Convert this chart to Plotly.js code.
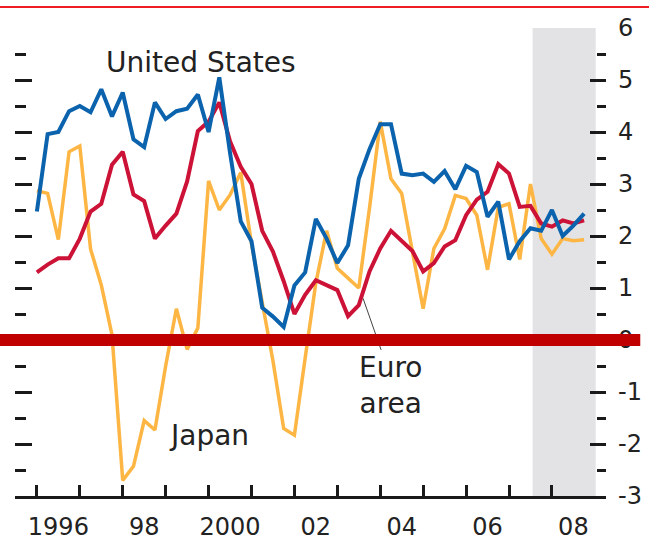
<!DOCTYPE html>
<html>
<head>
<meta charset="utf-8">
<script src="https://cdn.plot.ly/plotly-3.0.1.min.js"></script>
<style>html,body{margin:0;padding:0;background:#fff;}#chart{width:649px;height:542px;}</style>
</head>
<body>
<div id="chart"></div>
<script>
// Quarterly growth rates, 1996Q1 - 2008Q4
const quarters = [];
for (let y = 1996; y <= 2008; y++) { for (let q = 1; q <= 4; q++) quarters.push(y + 'Q' + q); }

const usValues = [2.47,3.96,4.0,4.4,4.5,4.38,4.82,4.3,4.76,3.86,3.71,4.57,4.25,4.4,4.45,4.72,4.0,5.05,3.6,2.28,1.9,0.62,0.45,0.25,1.05,1.3,2.33,1.95,1.48,1.82,3.1,3.67,4.15,4.15,3.2,3.17,3.2,3.04,3.25,2.9,3.35,3.23,2.37,2.66,1.55,1.9,2.15,2.1,2.5,2.0,2.2,2.43];
const euroValues = [1.3,1.45,1.57,1.57,1.95,2.47,2.62,3.37,3.62,2.8,2.67,1.95,2.2,2.43,3.05,4.02,4.2,4.57,3.82,3.33,3.0,2.1,1.7,1.13,0.5,0.87,1.15,1.06,0.96,0.46,0.67,1.32,1.76,2.1,1.9,1.71,1.32,1.48,1.8,1.92,2.4,2.7,2.85,3.38,3.2,2.56,2.58,2.24,2.18,2.3,2.24,2.3];
const japanValues = [2.87,2.82,1.93,3.62,3.73,1.75,1.06,0.1,-2.7,-2.43,-1.55,-1.73,-0.5,0.6,-0.18,0.23,3.06,2.5,2.79,3.22,1.85,0.72,-0.4,-1.7,-1.83,-0.35,1.1,2.1,1.38,1.19,1.0,2.54,4.2,3.1,2.82,1.7,0.6,1.76,2.14,2.78,2.72,2.4,1.35,2.55,2.62,1.55,3.0,1.95,1.65,1.95,1.91,1.93];

const yearTicks = [1996,1997,1998,1999,2000,2001,2002,2003,2004,2005,2006,2007,2008];
const yearLabelPos = [1996.5,1998.5,2000.5,2002.5,2004.5,2006.5,2008.5];
const yearLabels = ['1996','98','2000','02','04','06','08'];
const yTickVals = [-3,-2,-1,0,1,2,3,4,5,6];
const yTickText = ['-3','-2','-1','0','1','2','3','4','5','6'];
const forecastStart = 2007.55, forecastEnd = 2009.02;

const xs = quarters.map(s => parseInt(s.slice(0,4)) + (parseInt(s.slice(5)) - 1) / 4);

const FONT = 'DejaVu Sans, Verdana, sans-serif';
const TICKC = '#1a1a1a';
const XR = [1995.49, 2009.26];

const traces = [
  {x: xs, y: japanValues, mode: 'lines', line: {color: '#fdb643', width: 3.5}, hoverinfo: 'skip', name: 'Japan'},
  {x: xs, y: euroValues, mode: 'lines', line: {color: '#cc1236', width: 4}, hoverinfo: 'skip', name: 'Euro area'},
  {x: xs, y: usValues, mode: 'lines', line: {color: '#0b63ae', width: 4}, hoverinfo: 'skip', name: 'United States'},
  {x: [yearLabelPos[0]], y: [0], xaxis: 'x2', yaxis: 'y2', mode: 'markers', marker: {opacity: 0}, hoverinfo: 'skip', showlegend: false}
];

const layout = {
  width: 649, height: 542,
  margin: {l: 15, r: 43, t: 28, b: 46, pad: 0},
  paper_bgcolor: '#ffffff', plot_bgcolor: '#ffffff',
  showlegend: false,
  font: {family: FONT, color: '#222'},
  xaxis: {range: XR, tickmode: 'array', tickvals: yearTicks, ticks: 'inside', ticklen: 11, tickwidth: 3, tickcolor: TICKC,
          showticklabels: false, showline: true, linewidth: 3, linecolor: TICKC, showgrid: false, zeroline: false, fixedrange: true},
  xaxis2: {overlaying: 'x', anchor: 'y', side: 'bottom', range: XR, tickmode: 'array', tickvals: yearLabelPos, ticktext: yearLabels,
           ticks: '', showline: false, showgrid: false, zeroline: false, tickfont: {family: FONT, size: 24, color: '#222'}, ticklabelstandoff: 14, fixedrange: true},
  yaxis: {range: [-3, 6], tickmode: 'array', tickvals: yTickVals, ticks: 'inside', ticklen: 17, tickwidth: 3, tickcolor: TICKC,
          showticklabels: false, showline: false, showgrid: false, zeroline: false, fixedrange: true,
          minor: {tickmode: 'linear', tick0: -2.5, dtick: 1, ticks: 'inside', ticklen: 11, tickwidth: 3, tickcolor: TICKC, showgrid: false}},
  yaxis2: {overlaying: 'y', anchor: 'x', side: 'right', range: [-3, 6], tickmode: 'array', tickvals: yTickVals, ticktext: yTickText,
           ticks: 'inside', ticklen: 16, tickwidth: 3, tickcolor: TICKC, showline: false, showgrid: false, zeroline: false, fixedrange: true,
           tickfont: {family: FONT, size: 24, color: '#222'}, ticklabelstandoff: 11,
           minor: {tickmode: 'linear', tick0: -2.5, dtick: 1, ticks: 'inside', ticklen: 9, tickwidth: 3, tickcolor: TICKC, showgrid: false}},
  shapes: [
    {type: 'rect', xref: 'x', yref: 'y', x0: forecastStart, x1: forecastEnd, y0: -3, y1: 6, fillcolor: '#e3e3e6', line: {width: 0}, layer: 'below'},
    {type: 'line', xref: 'x', yref: 'y', x0: 2003.6, y0: 0.8, x1: 2004.02, y1: -0.19, line: {color: '#444', width: 1}, layer: 'above'},
    {type: 'line', xref: 'paper', yref: 'y', x0: -0.026, x1: 1.058, y0: 0, y1: 0, line: {color: '#c00000', width: 12}, layer: 'above'},
    {type: 'line', xref: 'paper', yref: 'paper', x0: -0.03, x1: 1.08, y0: 1.045, y1: 1.045, line: {color: '#ee1c25', width: 2}, layer: 'above'}
  ],
  annotations: [
    {x: 1999.82, y: 5.33, xref: 'x', yref: 'y', text: 'United States', showarrow: false, font: {family: FONT, size: 28, color: '#222'}},
    {x: 2000.01, y: -1.83, xref: 'x', yref: 'y', text: 'Japan', showarrow: false, font: {family: FONT, size: 28, color: '#222'}},
    {x: 2004.25, y: -0.88, xref: 'x', yref: 'y', text: 'Euro<br>area', showarrow: false, font: {family: FONT, size: 28, color: '#222'}}
  ]
};

Plotly.newPlot('chart', traces, layout, {displayModeBar: false, staticPlot: true});
</script>
</body>
</html>
